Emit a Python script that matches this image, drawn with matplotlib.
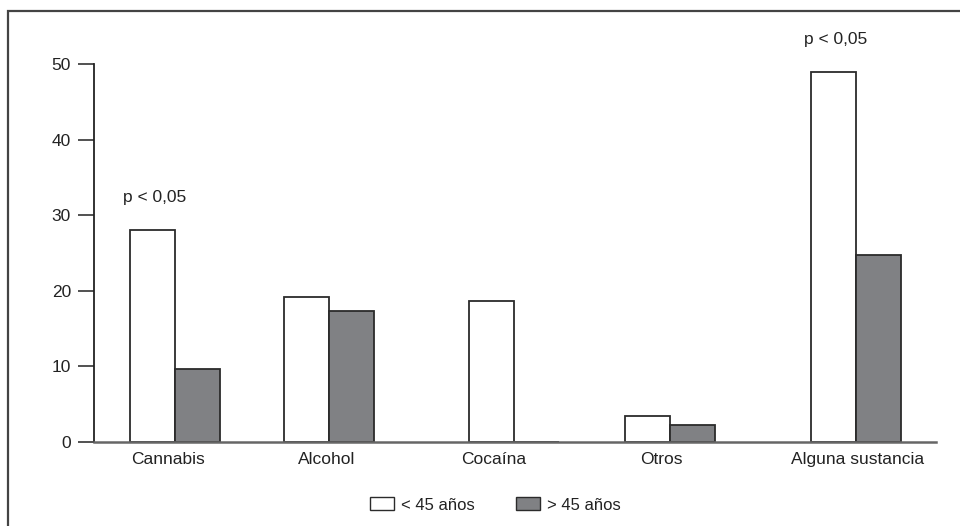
import matplotlib
matplotlib.use("Agg")
import matplotlib.pyplot as plt
from matplotlib.patches import Rectangle, Patch

plt.rcParams['font.family'] = ['Liberation Sans', 'DejaVu Sans']

categories = ["Cannabis", "Alcohol", "Cocaína", "Otros", "Alguna sustancia"]
under_45 = [28.0, 19.2, 18.6, 3.5, 49.0]
over_45 = [9.7, 17.3, 0.0, 2.2, 24.7]
series_labels = ["< 45 años", "> 45 años"]
significance = ["p < 0,05", "", "", "", "p < 0,05"]
y_ticks = [0, 10, 20, 30, 40, 50]

# group centres along the x axis and label nudges (layout)
group_x = [0.0, 0.905, 1.991, 2.908, 4.0]
label_shift = [-0.041, -0.012, -0.120, -0.053, 0.009]
bar_w = 0.264
fs = 12.5

fig = plt.figure(figsize=(9.6, 5.26), dpi=100)
ax = fig.add_axes([94 / 960, 84 / 526, 842 / 960, 378 / 526])

edge = "#2b2b2b"
gray = "#808184"
ax.bar([x - bar_w / 2 for x in group_x], under_45, width=bar_w,
       color="white", edgecolor=edge, linewidth=1.3, zorder=3)
ax.bar([x + bar_w / 2 for x in group_x], over_45, width=bar_w,
       color=gray, edgecolor=edge, linewidth=1.3, zorder=3)

for x, hi, lab in zip(group_x, under_45, significance):
    if lab:
        ax.text(x - bar_w / 2 + 0.01, hi + 3.3, lab, ha="center", va="bottom",
                fontsize=fs, color="#222222", clip_on=False)

ax.set_xlim(-0.476, 4.47)
ax.set_ylim(0, 50)
ax.set_yticks(y_ticks)
ax.set_yticklabels([str(v) for v in y_ticks], fontsize=fs, color="#222222")
ax.set_xticks([x + d for x, d in zip(group_x, label_shift)])
ax.set_xticklabels(categories, fontsize=fs, color="#222222")
ax.tick_params(axis="x", length=0, pad=7)
ax.tick_params(axis="y", length=11.5, width=1.2, color="#333333", pad=5)

for s in ("top", "right"):
    ax.spines[s].set_visible(False)
ax.spines["left"].set_color("#222222")
ax.spines["left"].set_linewidth(1.3)
ax.spines["bottom"].set_color("#666666")
ax.spines["bottom"].set_linewidth(1.8)
ax.spines["bottom"].set_zorder(4)

handles = [Patch(facecolor="white", edgecolor=edge, linewidth=1.0),
           Patch(facecolor=gray, edgecolor=edge, linewidth=1.0)]
fig.legend(handles, series_labels, loc="center", bbox_to_anchor=(0.516, 0.04),
           ncol=2, frameon=False, fontsize=12, handlelength=1.44,
           handleheight=0.84, handletextpad=0.42, columnspacing=2.5,
           labelcolor="#222222")

# outer frame
fig.add_artist(Rectangle((8 / 960, -0.05), 1.2, (526 - 11) / 526 + 0.05,
                         transform=fig.transFigure, fill=False,
                         edgecolor="#444444", linewidth=1.6))

fig.savefig("out.png", dpi=100)
